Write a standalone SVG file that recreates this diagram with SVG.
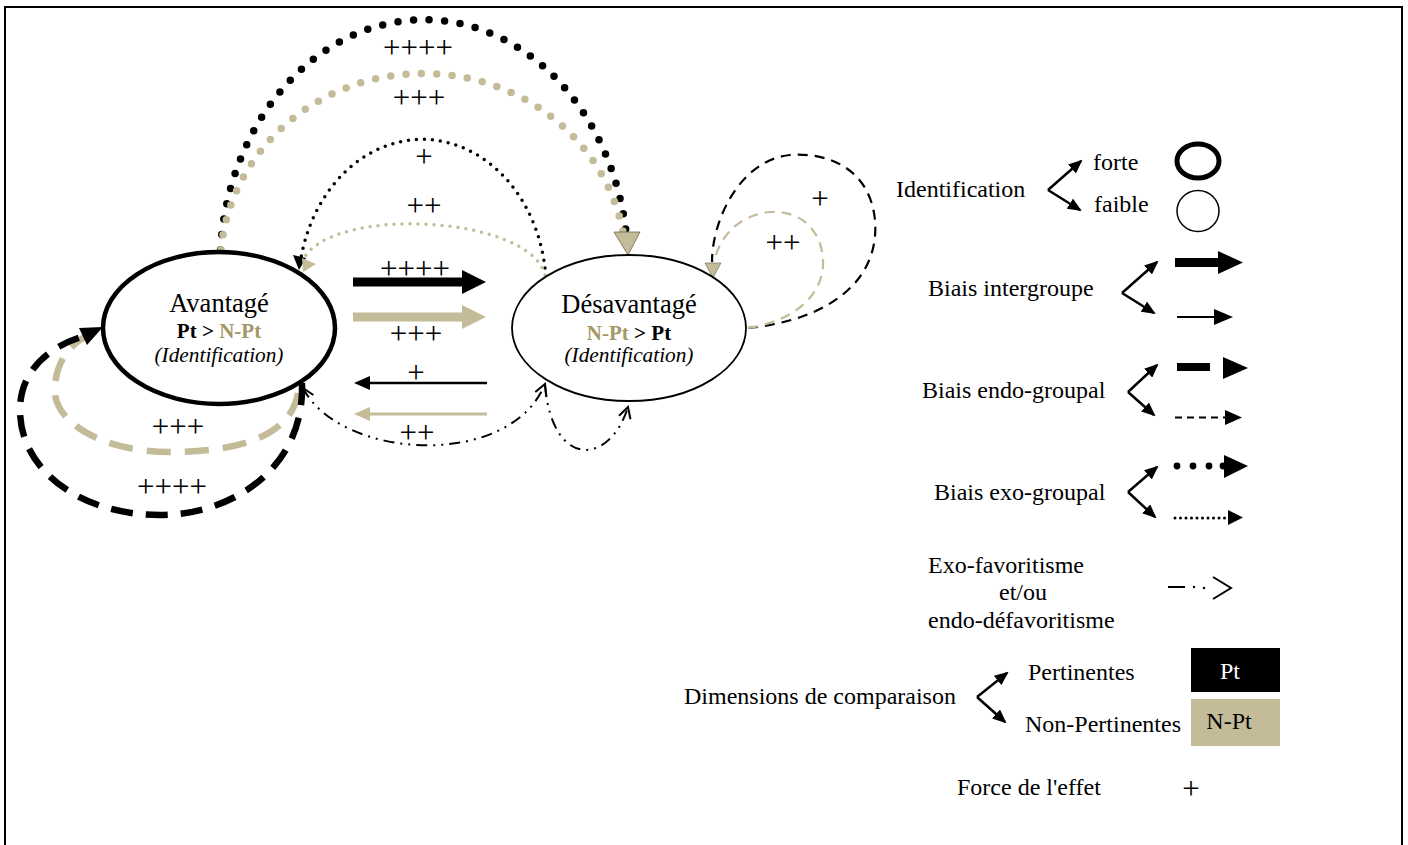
<svg xmlns="http://www.w3.org/2000/svg" width="1408" height="845" viewBox="0 0 1408 845">
<defs>
<style>
text{font-family:"Liberation Serif","Times New Roman",serif;fill:#000}
.lg{font-size:24px}
.pl{font-size:31px;text-anchor:middle}
.tan{fill:#C4BB98}
.tant{fill:#A39866}
.bigdot{fill:none;stroke-width:7.5;stroke-linecap:round}
.smdot{fill:none;stroke-width:3.5;stroke-linecap:round;stroke-dasharray:0 8}
.dd{fill:none;stroke:#000;stroke-width:2;stroke-dasharray:11 6 2 6 2 6}
.ch{fill:none;stroke:#000;stroke-width:2.5;marker-end:url(#hd)}
</style>
<marker id="hd" viewBox="0 0 14 12" refX="12" refY="6" markerWidth="14" markerHeight="12" orient="auto" markerUnits="userSpaceOnUse"><path d="M0,0 L14,6 L0,12 z" fill="#000"/></marker>
<marker id="op" viewBox="0 0 14 14" refX="12" refY="7" markerWidth="14" markerHeight="14" orient="auto-start-reverse" markerUnits="userSpaceOnUse"><path d="M1,1 L12,7 L1,13" fill="none" stroke="#000" stroke-width="2"/></marker>
</defs>
<rect x="0" y="0" width="1408" height="845" fill="#fff"/>
<rect x="5" y="7" width="1397" height="860" fill="none" stroke="#000" stroke-width="2"/>

<g id="connectors">
  <!-- top arcs -->
  <path d="M220.5 250 A204 247 0 0 1 626 232" class="bigdot" stroke="#000" stroke-dasharray="0 15.6"/>
  <path d="M221 250 A203 193 0 0 1 623 232" class="bigdot" stroke="#C4BB98" stroke-width="7" stroke-dasharray="0 15.4"/>
  <polygon points="614,232 640,232 628,255" fill="#C4BB98" stroke="#6b6450" stroke-width="0.8"/>
  <path d="M545 268 A124 150 0 0 0 301 258" class="smdot" stroke="#000"/>
  <path d="M545 275 C530 215 330 205 303 260" class="smdot" stroke="#C4BB98"/>
  <polygon points="293,255 306,258 299,270" fill="#000"/>
  <polygon points="302,258 316,264 303,272" fill="#C4BB98"/>

  <!-- straight arrows -->
  <rect x="353" y="277.5" width="110" height="9" fill="#000"/>
  <polygon points="462,270 486,282 462,294" fill="#000"/>
  <rect x="353" y="312.5" width="110" height="9" fill="#C4BB98"/>
  <polygon points="462,305 486,317 462,329" fill="#C4BB98"/>
  <line x1="368" y1="383" x2="487" y2="383" stroke="#000" stroke-width="2.5"/>
  <polygon points="354,383 370,376 370,390" fill="#000"/>
  <line x1="368" y1="414" x2="487" y2="414" stroke="#C4BB98" stroke-width="3"/>
  <polygon points="354,414 370,407 370,421" fill="#C4BB98"/>

  <!-- dash-dot curves -->
  <path d="M303 388 C340 460 510 470 545 384" class="dd" marker-start="url(#op)" marker-end="url(#op)"/>
  <path d="M545 386 C553 470 610 465 628 407" class="dd" marker-end="url(#op)"/>

  <!-- left self loops -->
  <path d="M298 393 C290 440 230 452 170 452 C100 452 50 420 55 385 C58 355 75 340 95 332" fill="none" stroke="#C4BB98" stroke-width="6.5" stroke-dasharray="24 14"/>
  <path d="M302 383 C305 470 230 515 160 515 C80 515 20 470 20 410 C20 370 50 345 88 335" fill="none" stroke="#000" stroke-width="6.5" stroke-dasharray="22 13"/>
  <polygon points="103,327 87,345 79,328" fill="#000"/>

  <!-- right self loops -->
  <path d="M748 328 C830 320 880 280 875 220 C870 170 830 152 790 155 C740 160 712 220 712 262" fill="none" stroke="#000" stroke-width="2.2" stroke-dasharray="10 7"/>
  <path d="M748 328 C800 320 825 290 823 260 C821 225 795 210 770 212 C740 215 720 235 714 262" fill="none" stroke="#C4BB98" stroke-width="2.2" stroke-dasharray="10 7"/>
  <polygon points="705,263 721,263 713,278" fill="#C4BB98" stroke="#6b6450" stroke-width="0.6"/>

  <!-- strength labels -->
  <text class="pl" x="418" y="58">++++</text>
  <text class="pl" x="419" y="108">+++</text>
  <text class="pl" x="424" y="167">+</text>
  <text class="pl" x="424" y="216">++</text>
  <text class="pl" x="415" y="279">++++</text>
  <text class="pl" x="416" y="344">+++</text>
  <text class="pl" x="416" y="383">+</text>
  <text class="pl" x="417" y="443">++</text>
  <text class="pl" x="178" y="437">+++</text>
  <text class="pl" x="172" y="497">++++</text>
  <text class="pl" x="820" y="209">+</text>
  <text class="pl" x="783" y="253">++</text>
</g>

<g id="node-avantage">
  <ellipse cx="219" cy="328" rx="116" ry="76" fill="none" stroke="#000" stroke-width="4.5"/>
  <text x="219" y="312" font-size="26.5" text-anchor="middle">Avantagé</text>
  <text x="219" y="338" font-size="21" font-weight="bold" text-anchor="middle">Pt &gt; <tspan class="tant">N-Pt</tspan></text>
  <text x="219" y="362" font-size="21.3" font-style="italic" text-anchor="middle">(Identification)</text>
</g>

<g id="node-desavantage">
  <ellipse cx="629" cy="328" rx="117" ry="73" fill="none" stroke="#000" stroke-width="1.8"/>
  <text x="629" y="313" font-size="26.5" text-anchor="middle">Désavantagé</text>
  <text x="629" y="340" font-size="21" font-weight="bold" text-anchor="middle"><tspan class="tant">N-Pt</tspan> &gt; Pt</text>
  <text x="629" y="362" font-size="21.3" font-style="italic" text-anchor="middle">(Identification)</text>
</g>

<g id="legend-identification">
  <text class="lg" x="896" y="197">Identification</text>
  <path d="M1048 190 L1081 161" class="ch"/>
  <path d="M1048 190 L1080 210" class="ch"/>
  <text class="lg" x="1093" y="170">forte</text>
  <text class="lg" x="1094" y="212">faible</text>
  <ellipse cx="1198" cy="161" rx="21" ry="17" fill="none" stroke="#000" stroke-width="5"/>
  <ellipse cx="1198" cy="211" rx="21" ry="20.5" fill="none" stroke="#000" stroke-width="1.5"/>
</g>

<g id="legend-intergroupe">
  <text class="lg" x="928" y="296">Biais intergroupe</text>
  <path d="M1122 293 L1157 262" class="ch"/>
  <path d="M1122 293 L1154 313" class="ch"/>
  <rect x="1175" y="258" width="45" height="9" fill="#000"/>
  <polygon points="1218,251 1243,262.5 1218,274" fill="#000"/>
  <line x1="1177" y1="317" x2="1216" y2="317" stroke="#000" stroke-width="2"/>
  <polygon points="1214,309 1233,317 1214,325" fill="#000"/>
</g>

<g id="legend-endo">
  <text class="lg" x="922" y="398">Biais endo-groupal</text>
  <path d="M1128 392 L1157 365" class="ch"/>
  <path d="M1128 392 L1154 415" class="ch"/>
  <rect x="1177" y="363" width="33" height="8" fill="#000"/>
  <polygon points="1223,357 1248,368 1223,379" fill="#000"/>
  <line x1="1175" y1="417.5" x2="1225" y2="417.5" stroke="#000" stroke-width="2" stroke-dasharray="7 5"/>
  <polygon points="1225,410 1242,417.5 1225,425" fill="#000"/>
</g>

<g id="legend-exo">
  <text class="lg" x="934" y="500">Biais exo-groupal</text>
  <path d="M1128 492 L1157 467" class="ch"/>
  <path d="M1128 492 L1155 517" class="ch"/>
  <circle cx="1177" cy="466" r="3.4"/>
  <circle cx="1193" cy="466" r="3.4"/>
  <circle cx="1209" cy="466" r="3.4"/>
  <circle cx="1223" cy="466" r="3.4"/>
  <polygon points="1224,455 1248,466 1224,478" fill="#000"/>
  <line x1="1175" y1="518" x2="1228" y2="518" stroke="#000" stroke-width="3" stroke-linecap="round" stroke-dasharray="0 5.5"/>
  <polygon points="1228,510 1243,517.5 1228,525" fill="#000"/>
</g>

<g id="legend-exofav">
  <text class="lg" x="928" y="573">Exo-favoritisme</text>
  <text class="lg" x="999" y="600">et/ou</text>
  <text class="lg" x="928" y="628">endo-défavoritisme</text>
  <line x1="1168" y1="587" x2="1185" y2="587" stroke="#000" stroke-width="2"/>
  <circle cx="1194" cy="587" r="1.2"/>
  <circle cx="1204" cy="588" r="1.2"/>
  <polyline points="1213,577 1231,588 1213,599" fill="none" stroke="#000" stroke-width="2"/>
</g>

<g id="legend-dimensions">
  <text class="lg" x="684" y="704">Dimensions de comparaison</text>
  <path d="M977 697 L1007 673" class="ch"/>
  <path d="M977 697 L1005 722" class="ch"/>
  <text class="lg" x="1028" y="680">Pertinentes</text>
  <text class="lg" x="1025" y="732">Non-Pertinentes</text>
  <rect x="1191" y="648" width="89" height="44" fill="#000"/>
  <text class="lg" x="1230" y="679" text-anchor="middle" style="fill:#fff">Pt</text>
  <rect x="1191" y="699" width="89" height="47" class="tan"/>
  <text class="lg" x="1229" y="729" text-anchor="middle">N-Pt</text>
</g>

<g id="legend-force">
  <text class="lg" x="957" y="795">Force de l'effet</text>
  <text class="pl" x="1191" y="799">+</text>
</g>
</svg>
